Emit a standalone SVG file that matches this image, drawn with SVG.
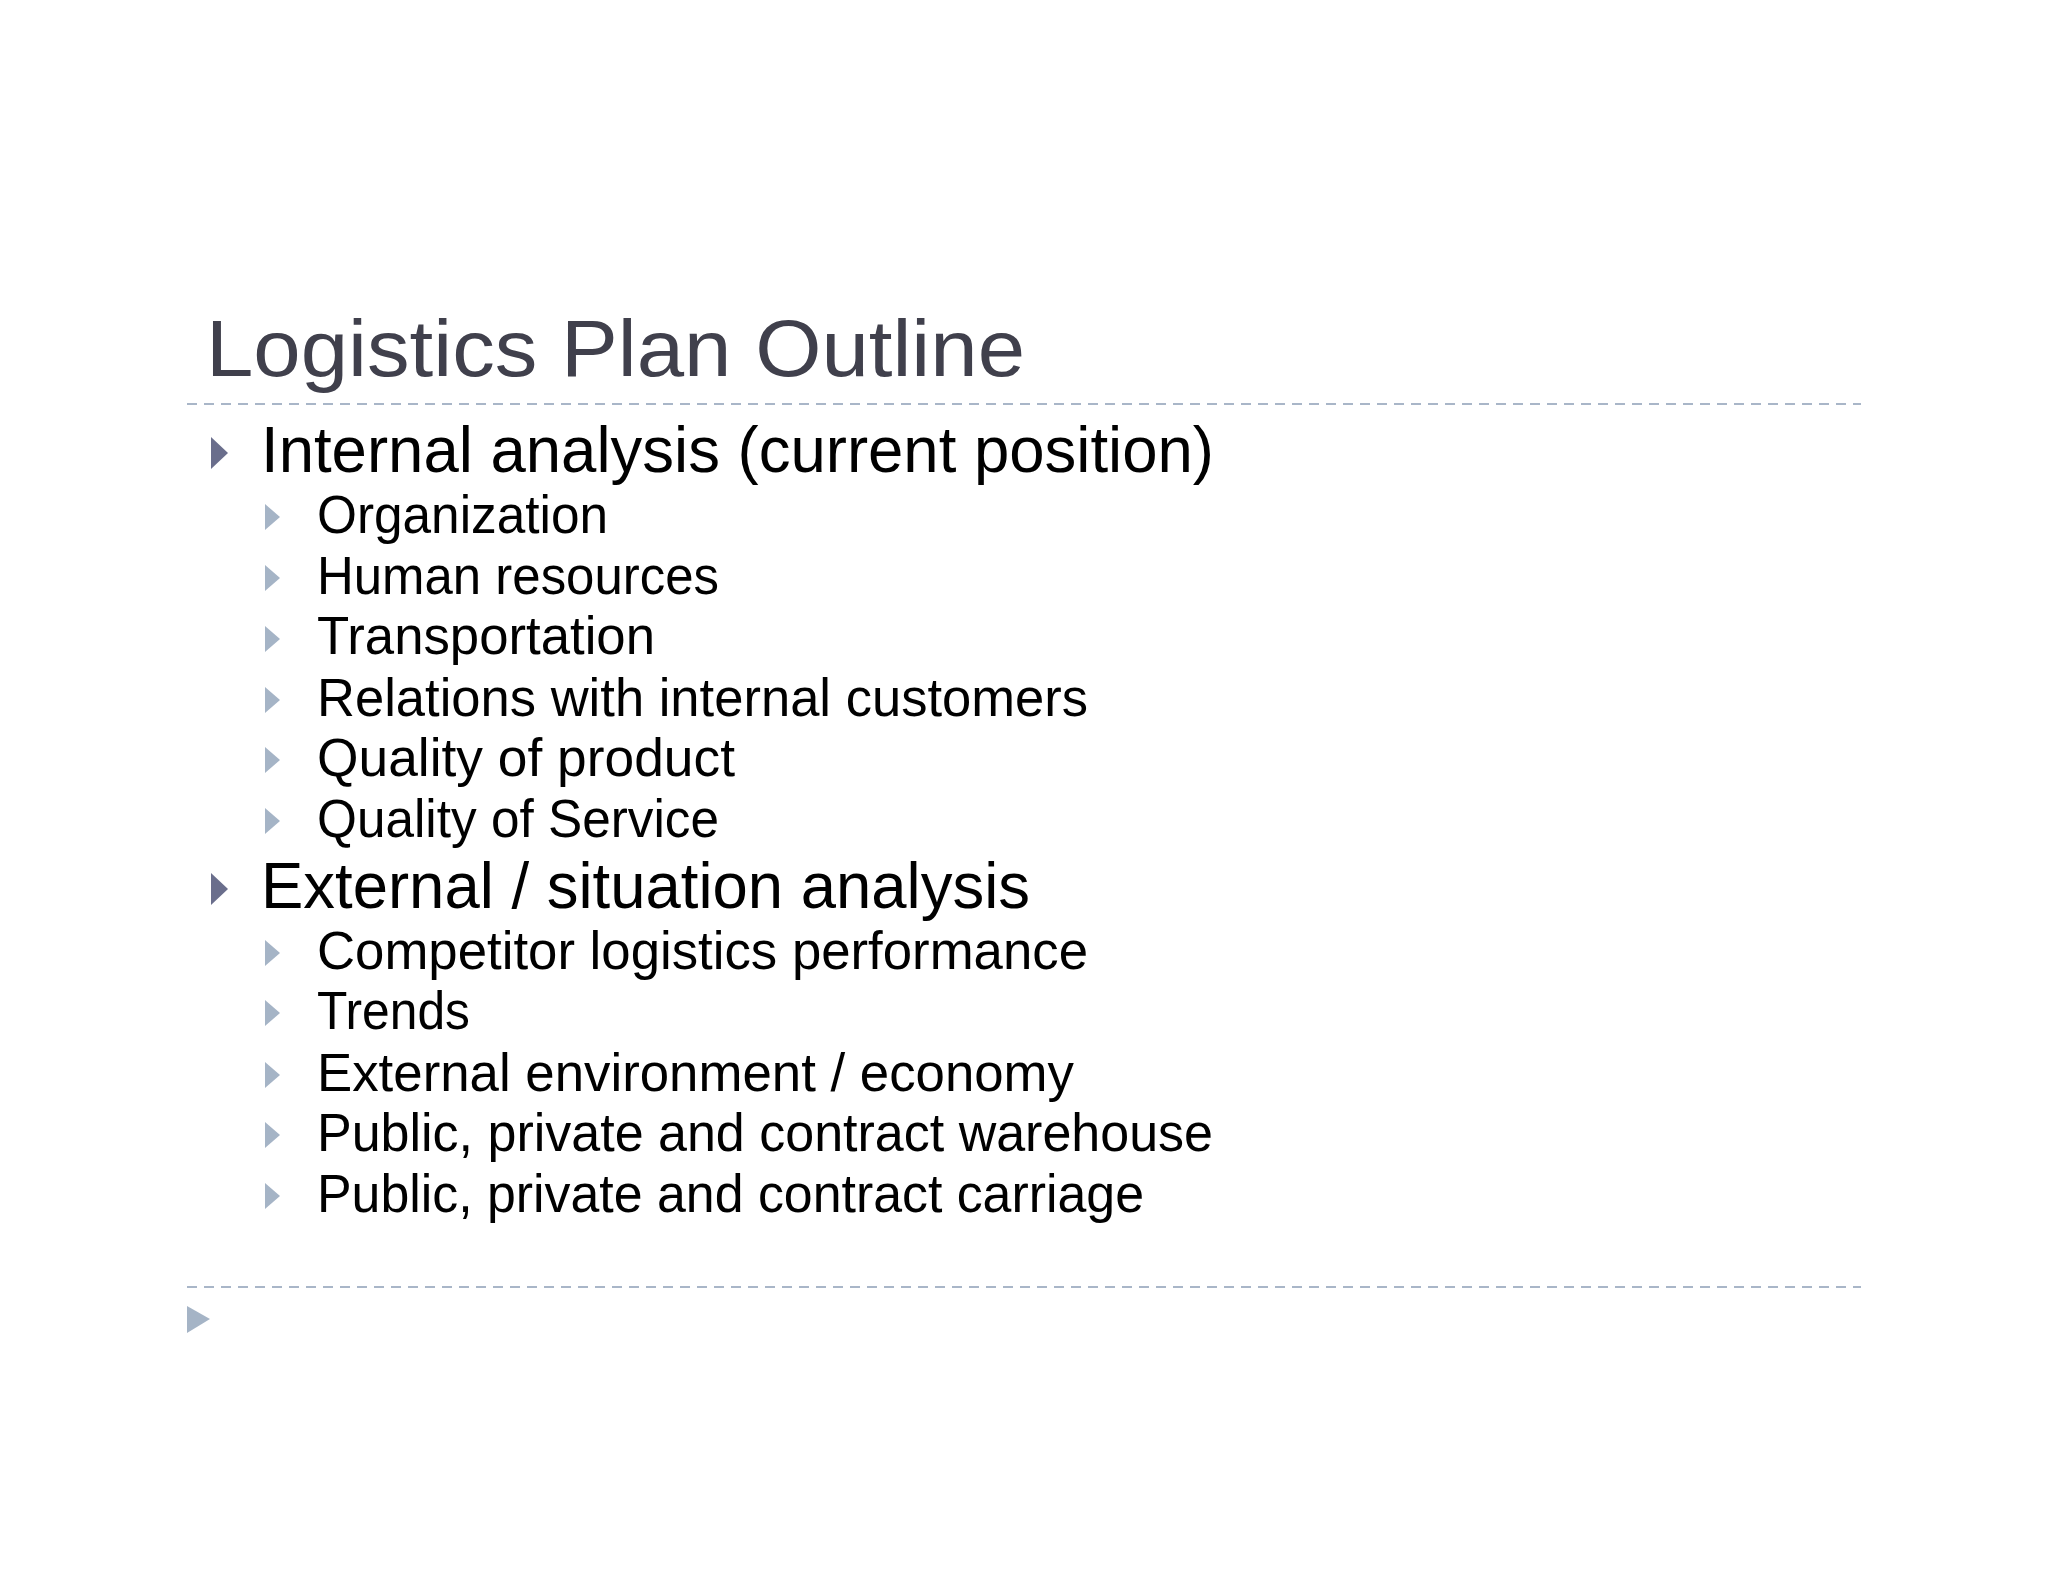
<svg xmlns="http://www.w3.org/2000/svg" width="2048" height="1582" viewBox="0 0 2048 1582">
<style>
text{font-family:"Liberation Sans","DejaVu Sans",sans-serif}
.t{font-size:80px;fill:#40404c}
.l1{font-size:64px;fill:#000}
.l2{font-size:53px;fill:#000}
.b1{fill:#6a6e8c}
.b2{fill:#a5b4c6}
.d{stroke:#a9b6c8;stroke-width:2;stroke-dasharray:10 7}
</style>
<rect width="2048" height="1582" fill="#fff"/>
<g id="title"><text class="t" x="206" y="376" textLength="819" lengthAdjust="spacingAndGlyphs">Logistics Plan Outline</text></g>
<g id="rules">
<line class="d" x1="187" y1="404" x2="1861" y2="404"/>
<line class="d" x1="187" y1="1287" x2="1861" y2="1287"/>
<polygon class="b2" points="187,1306 210,1319 187,1333"/>
</g>
<g id="internal">
<polygon class="b1" points="211,437 228,453 211,469"/>
<text class="l1" x="261" y="472" textLength="953" lengthAdjust="spacingAndGlyphs">Internal analysis (current position)</text>
</g>
<g id="internal-items">
<polygon class="b2" points="265,504 280,517 265,530"/><text class="l2" x="317" y="533" textLength="291" lengthAdjust="spacingAndGlyphs">Organization</text>
<polygon class="b2" points="265,565 280,578 265,591"/><text class="l2" x="317" y="594" textLength="402" lengthAdjust="spacingAndGlyphs">Human resources</text>
<polygon class="b2" points="265,626 280,639 265,652"/><text class="l2" x="317" y="654" textLength="338" lengthAdjust="spacingAndGlyphs">Transportation</text>
<polygon class="b2" points="265,687 280,700 265,713"/><text class="l2" x="317" y="716" textLength="771" lengthAdjust="spacingAndGlyphs">Relations with internal customers</text>
<polygon class="b2" points="265,747 280,760 265,773"/><text class="l2" x="317" y="776" textLength="418" lengthAdjust="spacingAndGlyphs">Quality of product</text>
<polygon class="b2" points="265,808 280,821 265,834"/><text class="l2" x="317" y="837" textLength="402" lengthAdjust="spacingAndGlyphs">Quality of Service</text>
</g>
<g id="external">
<polygon class="b1" points="211,873 228,889 211,905"/>
<text class="l1" x="261" y="908" textLength="769" lengthAdjust="spacingAndGlyphs">External / situation analysis</text>
</g>
<g id="external-items">
<polygon class="b2" points="265,940 280,953 265,966"/><text class="l2" x="317" y="969" textLength="771" lengthAdjust="spacingAndGlyphs">Competitor logistics performance</text>
<polygon class="b2" points="265,1000 280,1013 265,1026"/><text class="l2" x="317" y="1029" textLength="153" lengthAdjust="spacingAndGlyphs">Trends</text>
<polygon class="b2" points="265,1062 280,1075 265,1088"/><text class="l2" x="317" y="1091" textLength="757" lengthAdjust="spacingAndGlyphs">External environment / economy</text>
<polygon class="b2" points="265,1122 280,1135 265,1148"/><text class="l2" x="317" y="1151" textLength="896" lengthAdjust="spacingAndGlyphs">Public, private and contract warehouse</text>
<polygon class="b2" points="265,1183 280,1196 265,1209"/><text class="l2" x="317" y="1212" textLength="827" lengthAdjust="spacingAndGlyphs">Public, private and contract carriage</text>
</g>
</svg>
